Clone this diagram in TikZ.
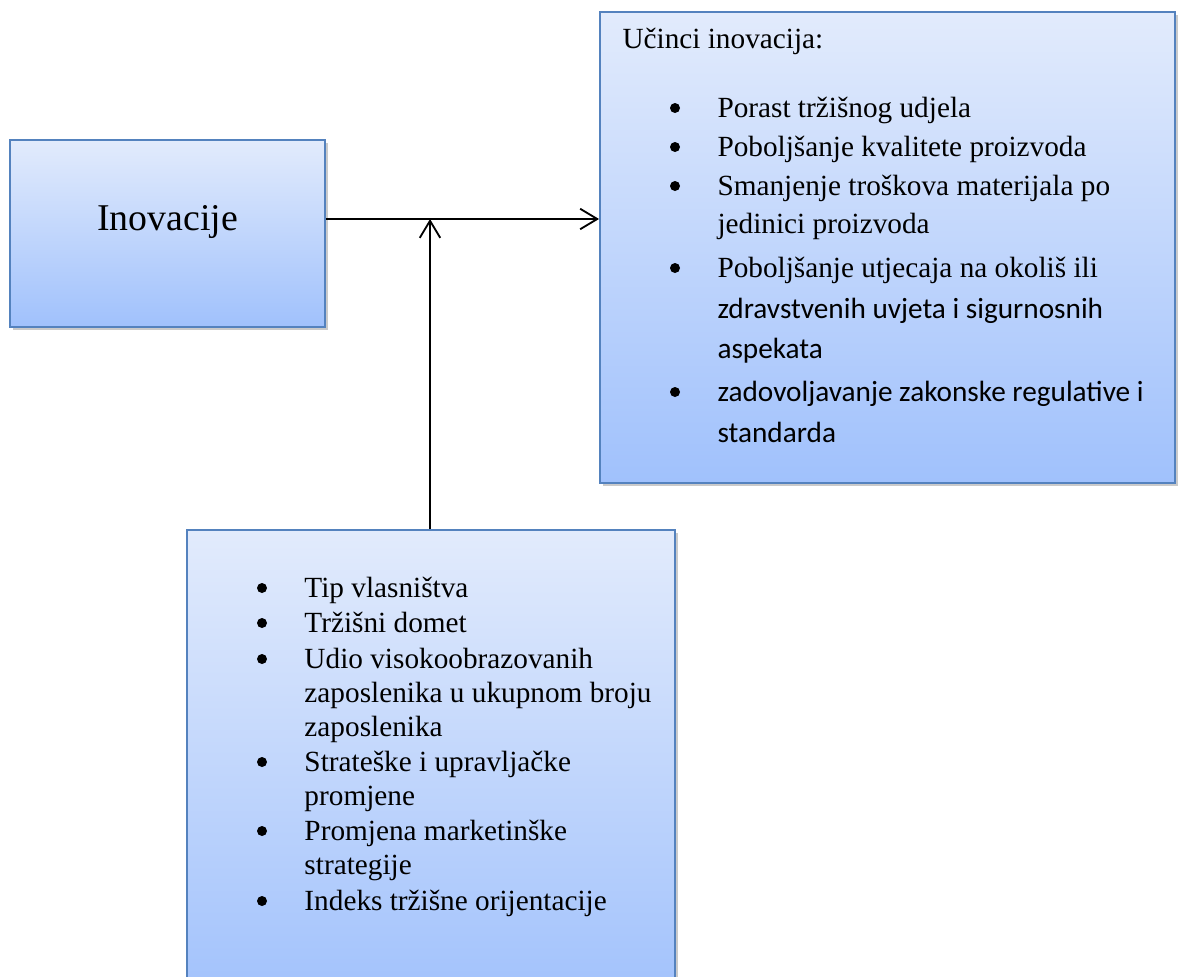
\documentclass[tikz,border=0pt]{standalone}
\usepackage{fontspec}
\setmainfont{Liberation Serif}
\newfontfamily\calibri{Carlito}
\usepackage{xcolor}
\definecolor{BoxLine}{RGB}{84,130,190}
\definecolor{BoxTop}{RGB}{226,235,252}
\definecolor{BoxBottom}{RGB}{160,193,252}
\usepackage{tikz}
\usetikzlibrary{fit}
\usetikzlibrary{shadows}
\usetikzlibrary{arrows.meta}
\tikzstyle{Box}=[draw=BoxLine,line width=0.8pt,inner sep=0pt,
top color=BoxTop,bottom color=BoxBottom,
drop shadow={shadow xshift=1.1pt,shadow yshift=-1.1pt,opacity=.35,fill=black!60}]
\tikzstyle{Arrow}=[draw=black,line width=0.75pt,
-{Straight Barb[length=7pt,width=8.4pt,line width=0.75pt]}]
\tikzstyle{Line}=[inner sep=0pt,anchor=base west,font=\fontsize{12}{14}\selectfont]
\tikzstyle{Dot}=[circle,fill=black,inner sep=0pt,minimum size=4.1pt]

\begin{document}
\begin{tikzpicture}[x=0.41pt,y=-0.41pt]
        \useasboundingbox (0,0) rectangle (1182,976);
        \clip (0,0) rectangle (1182,976);
        % boxes
        \node[Box,fit={(10,140) (325,327)}](inno){};
        \node[Box,fit={(600,12) (1175,483)}](effects){};
        \node[Box,fit={(187,530) (675,1010)}](factors){};
        \node[inner sep=0pt,anchor=base,font=\fontsize{15.5}{18}\selectfont](innotext)
            at(167.5,230){Inovacije};
        % right box
        \node[Line](e0)at(622,48){U\v{c}inci inovacija:};
        \foreach \y/\t [count=\i] in {117/Porast tr\v{z}i\v{s}nog udjela,
            156/Pobolj\v{s}anje kvalitete proizvoda,
            195/Smanjenje tro\v{s}kova materijala po,
            233/jedinici proizvoda,
            277/Pobolj\v{s}anje utjecaja na okoli\v{s} ili,
            318/{\calibri zdravstvenih uvjeta i sigurnosnih},
            358/{\calibri aspekata},
            401/{\calibri zadovoljavanje zakonske regulative i},
            442/{\calibri standarda}}
            \node[Line](e\i)at(717,\y){\t};
        \foreach \y [count=\i] in {108,147,186,268,392}
            \node[Dot](ed\i)at(675,\y){};
        % bottom box
        \foreach \y/\t [count=\i] in {597/Tip vlasni\v{s}tva,
            632/Tr\v{z}i\v{s}ni domet,
            668/Udio visokoobrazovanih,
            702/zaposlenika u ukupnom broju,
            736/zaposlenika,
            771/Strate\v{s}ke i upravlja\v{c}ke,
            805/promjene,
            840/Promjena marketin\v{s}ke,
            874/strategije,
            910/Indeks tr\v{z}i\v{s}ne orijentacije}
            \node[Line](f\i)at(304,\y){\t};
        \foreach \y [count=\i] in {588,623,659,762,831,901}
            \node[Dot](fd\i)at(262,\y){};
        % connectors
        \coordinate(join)at(430,219);
        \draw[Arrow](inno.east|-join)--(effects.west|-join);
        \draw[Arrow](factors.north-|join)--(join);
    \end{tikzpicture}
\end{document}
